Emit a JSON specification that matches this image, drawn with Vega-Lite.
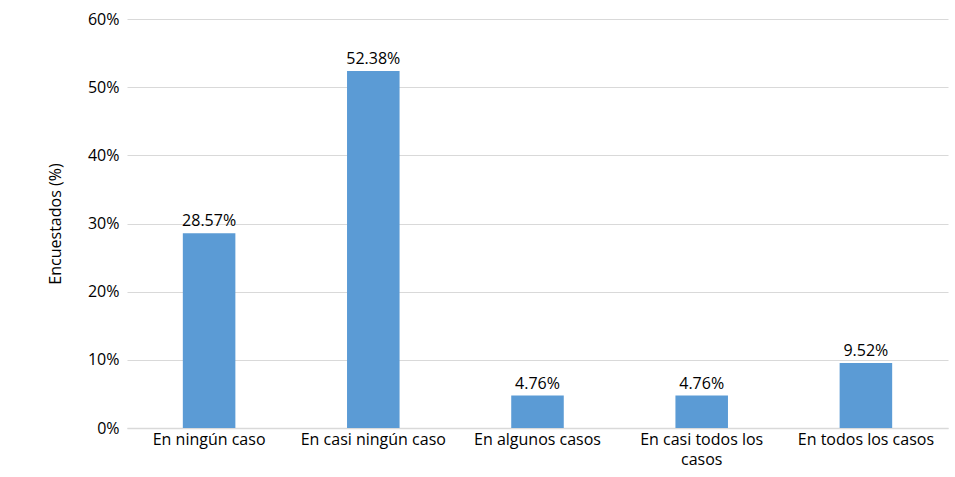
{
  "$schema": "https://vega.github.io/schema/vega-lite/v6.json",
  "autosize": "none",
  "width": 821,
  "height": 409,
  "padding": {"left": 127, "top": 19, "right": 7, "bottom": 49},
  "background": "white",
  "config": {
    "view": {"stroke": null},
    "font": "Open Sans"
  },
  "data": {
    "values": [
      {"categoria": "En ningún caso", "valor": 0.2857},
      {"categoria": "En casi ningún caso", "valor": 0.5238},
      {"categoria": "En algunos casos", "valor": 0.0476},
      {"categoria": "En casi todos los casos", "valor": 0.0476},
      {"categoria": "En todos los casos", "valor": 0.0952}
    ]
  },
  "encoding": {
    "x": {
      "field": "categoria",
      "type": "nominal",
      "sort": null,
      "scale": {"paddingInner": 0.68, "paddingOuter": 0.34},
      "axis": {
        "title": null,
        "labelAngle": 0,
        "labelFont": "Open Sans",
        "labelFontSize": 16,
        "labelColor": "#000000",
        "labelPadding": 3,
        "labelLineHeight": 20,
        "ticks": false,
        "domainColor": "#D9D9D9",
        "domainWidth": 1.5,
        "labelExpr": "datum.label == 'En casi todos los casos' ? ['En casi todos los', 'casos'] : datum.label"
      }
    },
    "y": {
      "field": "valor",
      "type": "quantitative",
      "scale": {"domain": [0, 0.6]},
      "axis": {
        "title": "Encuestados (%)",
        "titleFont": "Open Sans",
        "titleFontSize": 16,
        "titleFontWeight": "normal",
        "titleColor": "#000000",
        "titlePadding": 24,
        "values": [0, 0.1, 0.2, 0.3, 0.4, 0.5, 0.6],
        "format": ".0%",
        "labelFont": "Open Sans",
        "labelFontSize": 16,
        "labelColor": "#000000",
        "labelPadding": 8,
        "ticks": false,
        "domain": false,
        "gridColor": "#D9D9D9",
        "gridWidth": 1.2
      }
    }
  },
  "layer": [
    {"mark": {"type": "bar", "color": "#5B9BD5"}},
    {
      "mark": {"type": "text", "baseline": "bottom", "dy": -4, "fontSize": 16, "font": "Open Sans", "color": "#000000"},
      "encoding": {
        "text": {"field": "valor", "type": "quantitative", "format": ".2%"}
      }
    }
  ]
}
